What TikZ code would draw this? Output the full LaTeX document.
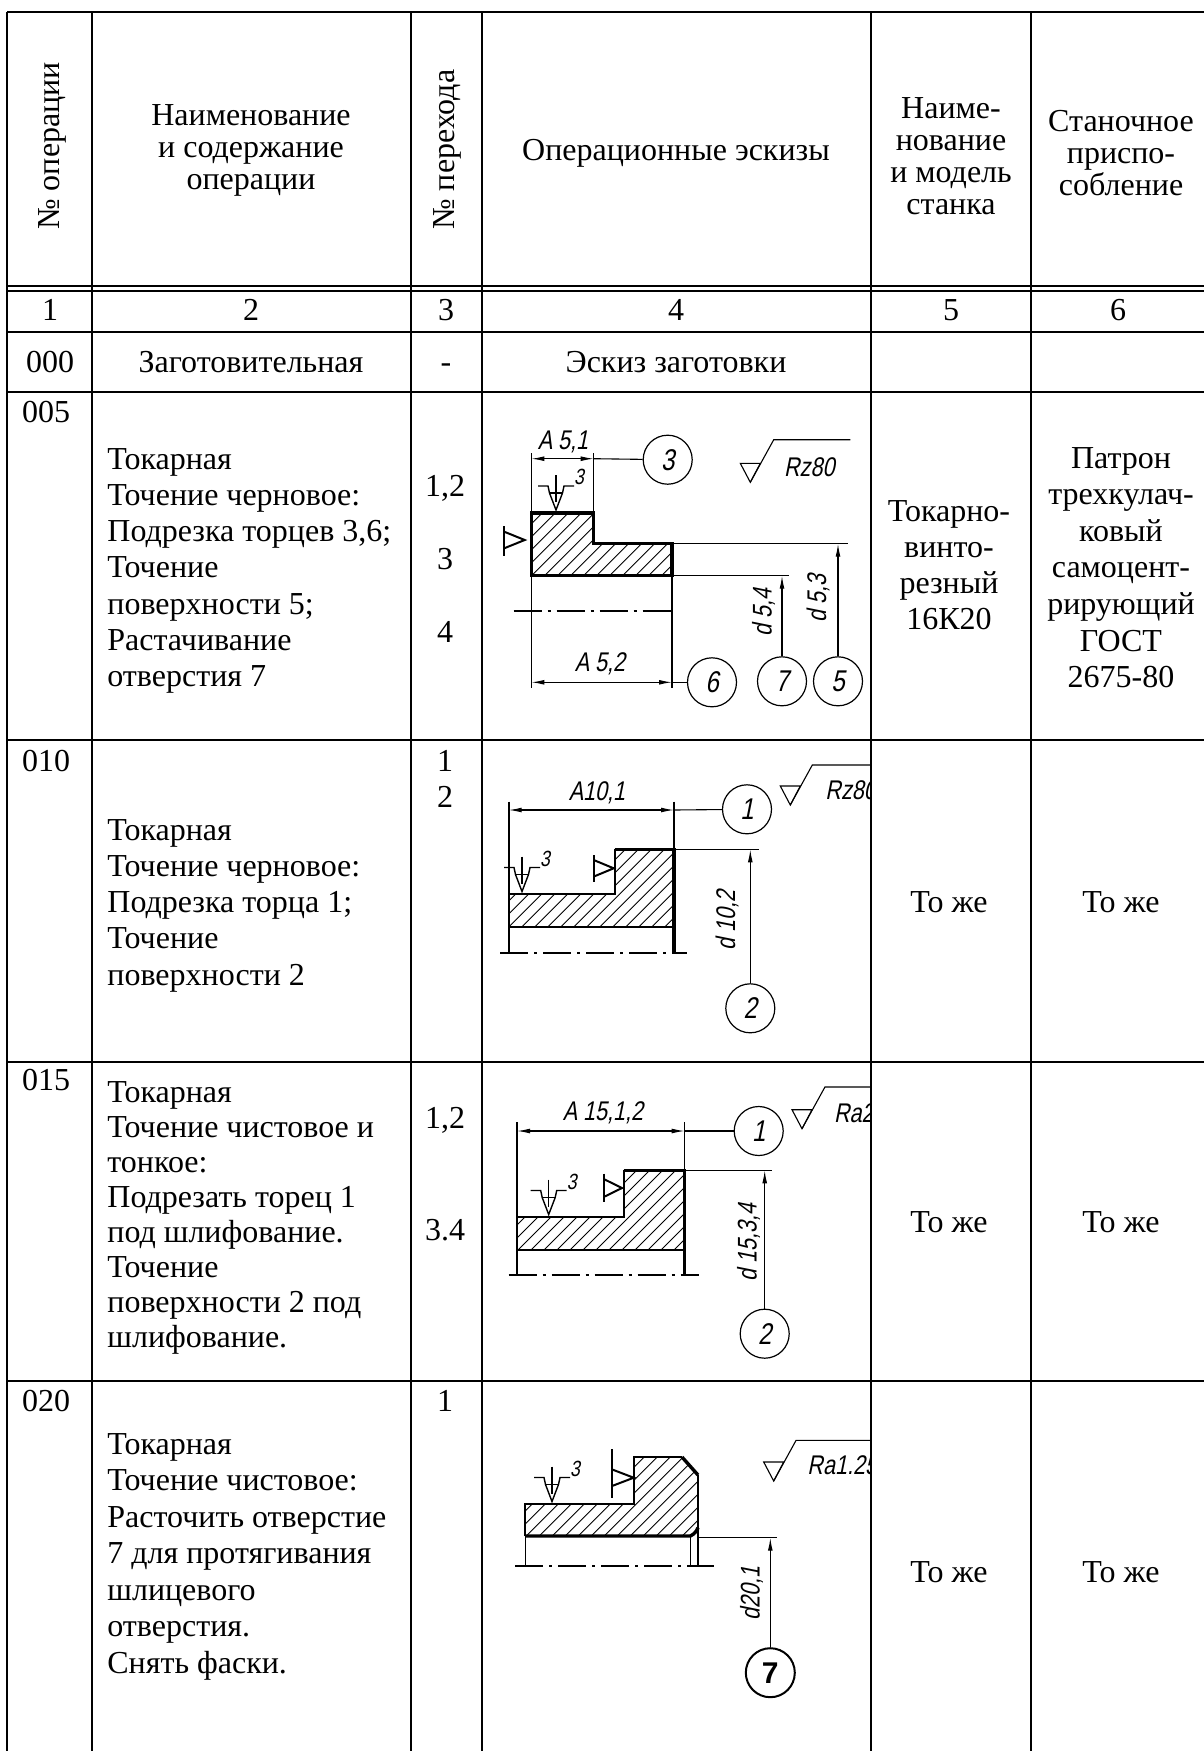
\documentclass[tikz,border=0pt]{standalone}
\usepackage{fontspec}
\setmainfont{Liberation Serif}
\newfontfamily\gost[FakeSlant=0.2,FakeStretch=0.8]{Liberation Sans}
\newfontfamily\bsans{Liberation Sans}
\usetikzlibrary{arrows.meta,calc}
\newcommand\tlines[6]{%
  \foreach \mytxt [count=\i from 0] in {#6} {\node[txt,anchor=#2] (#1\i) at (#3,{#4+#5*\i}) {\mytxt};}}
\newcommand\hatchfill[3]{%
  \begin{scope}\clip #1;
  \foreach \k in {-208,-195,...,208} \draw[hatchln] ({#2+\k},#3) -- ({#2+\k+220},{#3-220});
  \end{scope}}
\newcommand\clampsym[3]{%
  \begin{scope}[shift={(#1,#2)}]
  \draw[clampln] (-18,-25) -- (-8,-25) -- (-6.5,-18) -- (0,-1) -- (6.5,-18) -- (8,-25) -- (18,-25);
  \draw[clampln] (-6.5,-18) -- (6.5,-18);
  \draw[clampln] (0,-36) -- (0,-9);
  \node[glab,font=\gost\fontsize{11}{12}\selectfont] (#3) at (23,-34) {3};
  \end{scope}}
\newcommand\suppsym[6]{%
  \draw[skmed] (#1,#2) -- (#1,#3);
  \draw[skmed] (#1,{#4-#6}) -- (#5,#4) -- (#1,{#4+#6});}
\newcommand\roughsym[8]{% ax, ay, topy, endx, name, text, tx, ty
  \draw[skthin] ({#1-10},{#2-19}) -- ({#1+10},{#2-19}) -- (#1,#2) -- cycle;
  \draw[skthin] (#1,#2) -- ({#1+(#2-#3)*0.55},#3) -- (#4,#3);
  \node[glab,anchor=base west] (#5) at (#7,#8) {#6};}
\begin{document}
\begin{tikzpicture}[x=0.5pt,y=-0.5pt,
  txt/.style={font=\fontsize{16}{18}\selectfont,inner sep=0pt},
  grid/.style={line width=1.2pt},
  skthin/.style={line width=0.55pt},
  clampln/.style={line width=0.7pt},
  skmed/.style={line width=1pt},
  skthick/.style={line width=1.7pt},
  hatchln/.style={line width=0.45pt},
  axisln/.style={line width=0.9pt,dash pattern=on 14pt off 3pt on 1.5pt off 3pt},
  dimarr/.style={skthin,{Latex[length=6.5pt,width=2.4pt]}-{Latex[length=6.5pt,width=2.4pt]}},
  uparr/.style={skthin,-{Latex[length=6.5pt,width=2.4pt]}},
  circ/.style={circle,draw,line width=0.6pt,minimum size=24.5pt,inner sep=0pt,font=\gost\fontsize{15}{16}\selectfont},
  glab/.style={font=\gost\fontsize{13.5}{15}\selectfont,inner sep=0pt}]
\useasboundingbox (0,0) rectangle (1204,1751);
\fill[white] (0,0) rectangle (1204,1751);

% ---------- header ----------
\node[txt,rotate=90,anchor=west] (h1) at (52,230) {№ операции};
\tlines{hb}{base}{251}{125}{32}{Наименование,и содержание,операции}
\node[txt,rotate=90,anchor=west] (h3) at (447,230) {№ перехода};
\node[txt,anchor=base] (h4) at (676,160) {Операционные эскизы};
\tlines{he}{base}{951}{118}{32}{Наиме-,нование,и модель,станка}
\tlines{hf}{base}{1121}{131}{32}{Станочное,приспо-,собление}
\foreach \xx/\nn in {50/1,251/2,446/3,676/4,951/5,1118/6} \node[txt,anchor=base] (n\nn) at (\xx,320) {\nn};

% ---------- row 000 ----------
\node[txt,anchor=base] (r0a) at (50,372) {000};
\node[txt,anchor=base] (r0b) at (251,372) {Заготовительная};
\node[txt,anchor=base] (r0c) at (446,372) {-};
\node[txt,anchor=base] (r0d) at (676,372) {Эскиз заготовки};

% ---------- row 005 ----------
\node[txt,anchor=base] (r1a) at (46,422) {005};
\tlines{r1b}{base west}{107}{469}{36.3}{Токарная,Точение черновое:,{Подрезка торцев 3,6;},Точение,поверхности 5;,Растачивание,отверстия 7}
\node[txt,anchor=base] (r1c1) at (445,496) {1,2};
\node[txt,anchor=base] (r1c2) at (445,569) {3};
\node[txt,anchor=base] (r1c3) at (445,642) {4};
\tlines{r1e}{base}{949}{521}{36.3}{Токарно-,винто-,резный,16К20}
\tlines{r1f}{base}{1121}{468}{36.6}{Патрон,трехкулач-,ковый,самоцент-,рирующий,ГОСТ,2675-80}

% ---------- row 010 ----------
\node[txt,anchor=base] (r2a) at (46,771) {010};
\tlines{r2b}{base west}{107}{840}{36.3}{Токарная,Точение черновое:,Подрезка торца 1;,Точение,поверхности 2}
\node[txt,anchor=base] (r2c1) at (445,771) {1};
\node[txt,anchor=base] (r2c2) at (445,807) {2};
\node[txt,anchor=base] (r2e) at (949,912) {То же};
\node[txt,anchor=base] (r2f) at (1121,912) {То же};

% ---------- row 015 ----------
\node[txt,anchor=base] (r3a) at (46,1090) {015};
\tlines{r3b}{base west}{107}{1102}{35}{Токарная,Точение чистовое и,тонкое:,Подрезать торец 1,под шлифование.,Точение,поверхности 2 под,шлифование.}
\node[txt,anchor=base] (r3c1) at (445,1128) {1,2};
\node[txt,anchor=base] (r3c2) at (445,1240) {3.4};
\node[txt,anchor=base] (r3e) at (949,1232) {То же};
\node[txt,anchor=base] (r3f) at (1121,1232) {То же};

% ---------- row 020 ----------
\node[txt,anchor=base] (r4a) at (46,1411) {020};
\tlines{r4b}{base west}{107}{1454}{36.5}{Токарная,Точение чистовое:,Расточить отверстие,7 для протягивания,шлицевого,отверстия.,Снять фаски.}
\node[txt,anchor=base] (r4c1) at (445,1411) {1};
\node[txt,anchor=base] (r4e) at (949,1582) {То же};
\node[txt,anchor=base] (r4f) at (1121,1582) {То же};

% ---------- sketch 005 ----------
\begin{scope}
\clip (482,393) rectangle (871,740);
\hatchfill{(531.3,513) -- (593.7,513) -- (593.7,543.7) -- (672,543.7) -- (672,575.7) -- (531.3,575.7) -- cycle}{531.3}{576}
\draw[skthick] (531.3,513) -- (593.7,513) -- (593.7,543.7) -- (672,543.7) -- (672,575.7) -- (531.3,575.7) -- cycle;
\draw[skthin] (531.3,453) -- (531.3,688);
\draw[skthin] (593.7,453) -- (593.7,513);
\draw[skthin] (672,575.7) -- (672,688);
\draw[skthin] (672,543.7) -- (848,543.7);
\draw[skthin] (672,575.7) -- (789,575.7);
\draw[axisln] (513.7,611.3) -- (675.3,611.3);
\node[circ] (s1c3) at (667.7,459.7) {3};
\node[circ] (s1c6) at (712,682.3) {6};
\node[circ] (s1c7) at (782,681.3) {7};
\node[circ] (s1c5) at (838,681.3) {5};
\coordinate (s1a1l) at (531.3,458.7);
\coordinate (s1a1r) at (593.7,458.7);
\coordinate (s1a2l) at (531.3,682.3);
\coordinate (s1a2r) at (672,682.3);
\coordinate (s1d3) at (838,543.7);
\coordinate (s1d4) at (782,575.7);
\draw[dimarr] (s1a1l) -- (s1a1r);
\draw[skthin] (s1a1r) -- (s1c3);
\draw[dimarr] (s1a2l) -- (s1a2r);
\draw[skthin] (s1a2r) -- (s1c6);
\draw[uparr] (s1c5) -- (s1d3);
\draw[uparr] (s1c7) -- (s1d4);
\node[glab] (s1t1) at (563,442) {A 5,1};
\node[glab] (s1t2) at (600,664) {A 5,2};
\node[glab,rotate=90] (s1t3) at (818,598) {d 5,3};
\node[glab,rotate=90] (s1t4) at (763.5,612) {d 5,4};
\suppsym{503.7}{526.3}{556.3}{540}{524.7}{8.5}
\clampsym{556}{511}{s1k}
\roughsym{750.3}{482.3}{439.7}{850.3}{s1r}{Rz80}{783.7}{476.3}
\end{scope}

% ---------- sketch 010 ----------
\begin{scope}
\clip (482,740) rectangle (871,1062);
\hatchfill{(508.7,926.7) -- (508.7,894.3) -- (614.7,894.3) -- (614.7,849.3) -- (674,849.3) -- (674,926.7) -- cycle}{508.7}{927}
\draw[skmed] (674,926.7) -- (508.7,926.7) -- (508.7,894.3) -- (614.7,894.3) -- (614.7,849.3);
\draw[skthick] (614.7,849.3) -- (674,849.3) -- (674,953.3);
\draw[skmed] (508.7,801.7) -- (508.7,953.3);
\draw[skthin] (674,801.7) -- (674,849.3);
\draw[skthin] (674,849.3) -- (758.7,849.3);
\draw[axisln] (500.3,953.3) -- (687,953.3);
\node[circ] (s2c1) at (747,809.3) {1};
\node[circ] (s2c2) at (750.3,1008.3) {2};
\coordinate (s2al) at (508.7,810);
\coordinate (s2ar) at (674,810);
\coordinate (s2d) at (750.3,849.3);
\draw[dimarr] (s2al) -- (s2ar);
\draw[skthin] (s2ar) -- (s2c1);
\draw[uparr] (s2c2) -- (s2d);
\node[glab] (s2t1) at (597,793) {A10,1};
\node[glab,rotate=90] (s2t2) at (727,920) {d 10,2};
\suppsym{593.7}{855}{881.7}{868.3}{613.7}{8.3}
\clampsym{522}{892.5}{s2k}
\roughsym{790.3}{805}{765}{880}{s2r}{Rz80}{825}{799.3}
\end{scope}

% ---------- sketch 015 ----------
\begin{scope}
\clip (482,1062) rectangle (871,1381);
\hatchfill{(517,1250.3) -- (517,1217) -- (623.7,1217) -- (623.7,1170.3) -- (684.7,1170.3) -- (684.7,1250.3) -- cycle}{517}{1251}
\draw[skmed] (684.7,1250.3) -- (517,1250.3) -- (517,1217) -- (623.7,1217) -- (623.7,1170.3);
\draw[skthick] (623.7,1170.3) -- (684.7,1170.3) -- (684.7,1275.3);
\draw[skmed] (517,1122) -- (517,1275.3);
\draw[skthin] (684.7,1122) -- (684.7,1170.3);
\draw[skthin] (684.7,1170.3) -- (772,1170.3);
\draw[axisln] (508.7,1275.3) -- (698.7,1275.3);
\node[circ] (s3c1) at (758.7,1131) {1};
\node[circ] (s3c2) at (764.7,1333.7) {2};
\coordinate (s3al) at (517,1131);
\coordinate (s3ar) at (684.7,1131);
\coordinate (s3d) at (764.7,1170.3);
\draw[dimarr] (s3al) -- (s3ar);
\draw[skthin] (s3ar) -- (s3c1);
\draw[uparr] (s3c2) -- (s3d);
\node[glab] (s3t1) at (603,1113) {A 15,1,2};
\node[glab,rotate=90] (s3t2) at (748.5,1242) {d 15,3,4};
\suppsym{603.7}{1173.7}{1202}{1188}{622}{9}
\clampsym{548.7}{1215.5}{s3k}
\roughsym{802}{1128.7}{1087}{880}{s3r}{Ra2}{833.7}{1122}
\end{scope}

% ---------- sketch 020 ----------
\begin{scope}
\clip (482,1381) rectangle (871,1751);
\hatchfill{(525.3,1536) -- (525.3,1504.3) -- (633.7,1504.3) -- (633.7,1457) -- (682,1457) -- (698,1475) -- (698,1527.7) -- (690.3,1536) -- cycle}{525.3}{1537}
\draw[skmed] (525.3,1536) -- (525.3,1504.3) -- (633.7,1504.3) -- (633.7,1457) -- (682,1457);
\draw[skmed] (698,1475) -- (698,1527.7);
\draw[skthick] (682,1457) -- (698,1475);
\draw[skthick] (525.3,1536) -- (690.3,1536) to[bend right=20] (698,1527.7);
\draw[skthin] (525.3,1536) -- (525.3,1566);
\draw[skthin] (690.3,1536) -- (690.3,1566);
\draw[skthin] (698,1527.7) -- (698,1566);
\draw[skthin] (698,1537.7) -- (777,1537.7);
\draw[axisln] (515.3,1566) -- (713.7,1566);
\node[circ,line width=1pt,font=\bsans\bfseries\fontsize{15}{16}\selectfont] (s4c7) at (770.3,1672.7) {7};
\coordinate (s4d) at (770.3,1537.7);
\draw[uparr] (s4c7) -- (s4d);
\node[glab,rotate=90] (s4t1) at (751.5,1593.5) {d20,1};
\suppsym{612}{1449.3}{1497.7}{1477.7}{633.7}{8.3}
\clampsym{552}{1502.5}{s4k}
\roughsym{773.7}{1481}{1440.3}{880}{s4r}{Ra1.25}{807}{1474.3}
\end{scope}

% ---------- table grid ----------
\foreach \yy in {12,332,392,740,1062,1381} \draw[grid] (7,\yy) -- (1204,\yy);
\draw[line width=1pt] (7,285.5) -- (1204,285.5);
\draw[line width=1pt] (7,290.5) -- (1204,290.5);
\foreach \xx in {7,92,411,482,871,1031} \draw[grid] (\xx,12) -- (\xx,1751);
\end{tikzpicture}
\end{document}
